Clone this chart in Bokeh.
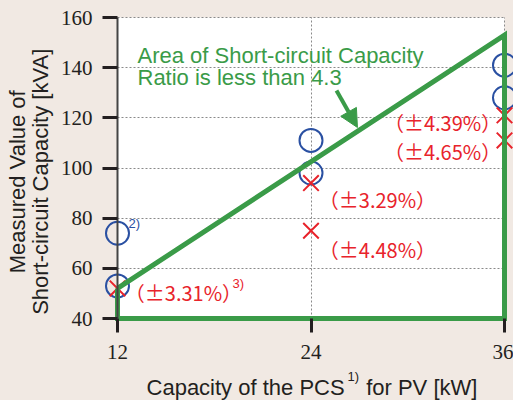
import math
from bokeh.plotting import figure
from bokeh.models import FixedTicker, Label, Arrow, NormalHead, Range1d
from bokeh.core.properties import value
from bokeh.embed import file_html
from bokeh.resources import INLINE

# ---- data ----
x_ticks = [12, 24, 36]
y_ticks = [40, 60, 80, 100, 120, 140, 160]

circle_x = [12, 12, 24, 24, 36, 36]          # measured values (circles)
circle_y = [74, 53, 111, 98, 141, 128]

cross_x = [12, 24, 24, 36, 36]               # calculated values (crosses)
cross_y = [52, 94, 75, 121, 111]

area_x = [12, 36, 36, 12, 12]                # area with ratio < 4.3
area_y = [52, 153, 40, 40, 52]

err_text = ["（±3.31%）", "（±3.29%）", "（±4.48%）", "（±4.39%）", "（±4.65%）"]
err_x = [16.09, 28.12, 28.12, 32.16, 32.16]
err_y = [50.4, 87.4, 67.5, 118.3, 106.4]

note_lines = ["Area of Short-circuit Capacity", "Ratio is less than 4.3"]

# ---- style ----
BG = "#f1e9e3"
GREEN = "#3a9b48"
RED = "#e8232b"
BLUE = "#2a50a2"
INK = "#231f20"
LATIN = "Liberation Sans"
NARROW = "Liberation Sans Narrow"
CJK = "Noto Sans CJK JP"

p = figure(width=513, height=400,
           x_range=Range1d(4.744, 36.558), y_range=Range1d(7.31, 166.78),
           output_backend="svg", toolbar_location=None,
           min_border_left=0, min_border_right=0, min_border_top=0, min_border_bottom=0,
           background_fill_color=BG, border_fill_color=BG, outline_line_color=None)

# white plotting area
p.quad(left=[x_ticks[0]], right=[x_ticks[-1]], bottom=[y_ticks[0]], top=[y_ticks[-1]],
       fill_color="white", line_color=None, level="image")

# grids
p.ygrid.ticker = FixedTicker(ticks=y_ticks)
p.ygrid.cross_bounds = (x_ticks[0], x_ticks[-1])
p.xgrid.ticker = FixedTicker(ticks=x_ticks[1:])
p.xgrid.cross_bounds = (y_ticks[0], y_ticks[-1])
for g in (p.xgrid, p.ygrid):
    g.grid_line_color = "#8a8a8a"
    g.grid_line_dash = "2 2"
    g.grid_line_width = 1

# axes (drawn inside the frame at fixed positions)
p.yaxis.ticker = FixedTicker(ticks=y_ticks)
p.yaxis.fixed_location = x_ticks[0]
p.yaxis.bounds = (y_ticks[0], y_ticks[-1])
p.yaxis.axis_line_color = "#444444"
p.yaxis.axis_line_width = 2
p.xaxis.ticker = FixedTicker(ticks=x_ticks)
p.xaxis.fixed_location = y_ticks[0]
p.xaxis.axis_line_color = None
for ax in (p.xaxis, p.yaxis):
    ax.major_tick_line_color = INK
    ax.major_tick_line_width = 3
    ax.major_tick_in = 0
    ax.minor_tick_line_color = None
    ax.major_label_text_font = NARROW
    ax.major_label_text_font_size = "21px"
    ax.major_label_text_color = INK
p.yaxis.major_tick_out = 15
p.yaxis.major_label_standoff = 10
p.xaxis.major_tick_out = 14
p.xaxis.major_label_standoff = 12

# markers
p.scatter(circle_x, circle_y, marker="circle", size=23, fill_color=None,
          line_color=BLUE, line_width=2)
p.scatter(cross_x, cross_y, marker="x", size=22, line_color=RED, line_width=2)

# ratio area
p.line(area_x, area_y, line_color=GREEN, line_width=5, line_join="miter")

# error labels
p.text(err_x, err_y, text=err_text, text_font=value(CJK), text_font_size="20px",
       text_color=RED, text_align="center", text_baseline="middle")
p.add_layout(Label(x=19.13, y=54.15, text="3)", text_font=LATIN, text_font_size="13px",
                   text_color=RED, text_baseline="middle"))
p.add_layout(Label(x=12.68, y=77.9, text="2)", text_font=LATIN, text_font_size="13px",
                   text_color=BLUE, text_baseline="middle"))

# note + arrow
p.text([13.24, 13.24], [144.9, 136.1], text=note_lines, text_font=value(LATIN),
       text_font_size="22px", text_color=GREEN, text_align="left",
       text_baseline="alphabetic")
p.add_layout(Arrow(end=NormalHead(size=18, fill_color=GREEN, line_color=GREEN),
                   x_start=25.58, y_start=130.9, x_end=26.88, y_end=116.15,
                   line_color=GREEN, line_width=4))

# axis titles
p.add_layout(Label(x=13.8, y=12.6, text="Capacity of the PCS", text_font=LATIN,
                   text_font_size="22px", text_color=INK, text_baseline="alphabetic"))
p.add_layout(Label(x=26.26, y=16.9, text="1)", text_font=LATIN,
                   text_font_size="13px", text_color=INK, text_baseline="middle"))
p.add_layout(Label(x=27.42, y=12.6, text="for PV [kW]", text_font=LATIN,
                   text_font_size="22px", text_color=INK, text_baseline="alphabetic"))
p.add_layout(Label(x=5.82, y=94.5, text="Measured Value of", text_font=LATIN,
                   text_font_size="22px", text_color=INK, angle=math.pi / 2,
                   text_align="center", text_baseline="middle"))
p.add_layout(Label(x=7.25, y=94.5, text="Short-circuit Capacity [kVA]", text_font=LATIN,
                   text_font_size="22px", text_color=INK, angle=math.pi / 2,
                   text_align="center", text_baseline="middle"))

html = file_html(p, INLINE)
html = html.replace("</head>", "<style>body{background:%s;}</style></head>" % BG, 1)
open("out.html", "w").write(html)
